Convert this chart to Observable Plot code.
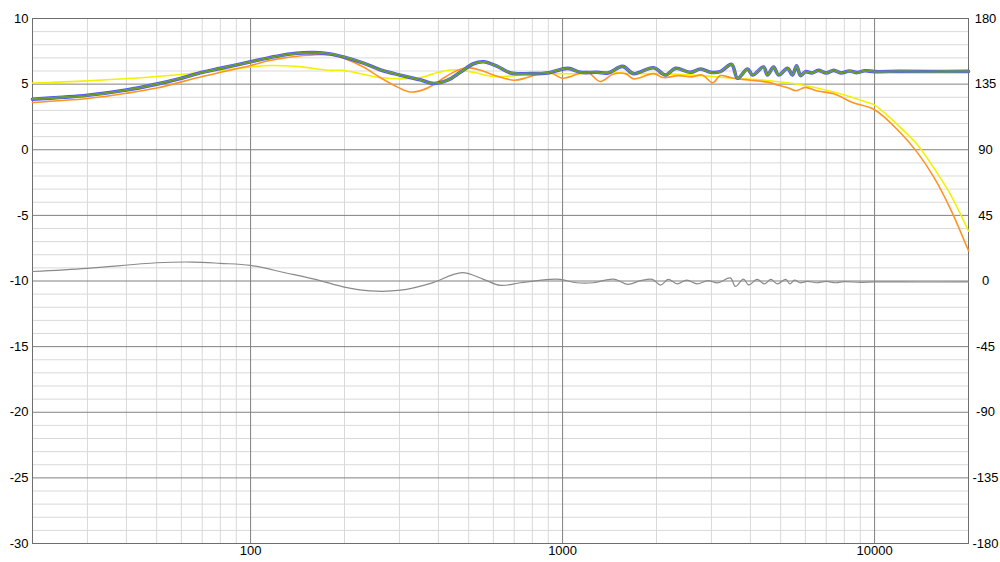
<!DOCTYPE html>
<html><head><meta charset="utf-8">
<script src="https://cdn.jsdelivr.net/npm/d3@7"></script>
<script src="https://cdn.jsdelivr.net/npm/@observablehq/plot@0.6"></script>
<style>html,body{margin:0;padding:0;background:#fff;}</style>
</head><body><div id="chart"></div>
<script>
// Grid and tick values
const majorFreqs = [100, 1000, 10000];
const minorFreqs = [20,30,40,50,60,70,80,90,200,300,400,500,600,700,800,900,2000,3000,4000,5000,6000,7000,8000,9000];
const levelTicks = [-30,-25,-20,-15,-10,-5,0,5,10];
const minorLevels = [-29,-28,-27,-26,-24,-23,-22,-21,-19,-18,-17,-16,-14,-13,-12,-11,-9,-8,-7,-6,-4,-3,-2,-1,1,2,3,4,6,7,8,9];
const phaseTicks = [180,135,90,45,0,-45,-90,-135,-180];

// Main response (blue / green / olive traces, nearly identical)
const mainFreq = [20,25,30,40,50,60,70,80,100,120,140,160,180,200,230,260,300,350,386,428,470,518,558,618,682,790,895,1040,1140,1290,1400,1557,1689,1957,2138,2301,2572,2769,2981,3200,3481,3638,3917,4063,4406,4538,4745,4923,5260,5457,5622,5794,6000,6300,6600,7000,7400,7800,8300,8800,9300,10000,12000,15000,20000];
const mainLevel = [3.85,4.0,4.15,4.55,5.0,5.45,5.9,6.2,6.7,7.1,7.35,7.4,7.3,7.05,6.6,6.1,5.7,5.33,5.05,5.3,5.9,6.55,6.7,6.35,5.85,5.8,5.85,6.2,5.9,5.9,5.85,6.35,5.8,6.25,5.7,6.2,5.9,6.15,5.9,5.95,6.5,5.45,6.15,5.7,6.3,5.7,6.3,5.7,6.2,5.7,6.4,5.65,5.95,5.85,6.05,5.85,6.05,5.85,6.0,5.88,6.02,5.95,5.97,5.96,5.97];

// Orange trace
const orangeFreq = [20,30,40,50,70,100,115,148,180,198,230,260,296,326,360,397,438,490,546,618,700,770,850,912,1000,1140,1200,1320,1450,1590,1689,1957,2100,2350,2600,2800,3030,3200,3450,3638,4000,4538,4950,5300,5600,6000,6500,7400,8500,10000,12100,13700,15500,17500,20000];
const orangeLevel = [3.6,3.9,4.3,4.7,5.58,6.42,6.8,7.18,7.25,7.0,6.3,5.5,4.77,4.4,4.6,5.15,5.8,6.25,6.05,5.6,5.3,5.5,5.83,5.9,5.45,5.85,5.95,5.2,5.75,5.8,5.4,5.8,5.5,5.65,5.55,5.7,5.1,5.65,5.5,5.4,5.3,5.15,4.9,4.7,4.5,4.75,4.5,4.26,3.6,3.05,1.3,-0.2,-2.1,-4.5,-7.7];

// Yellow trace
const yellowFreq = [20,30,50,70,100,115,140,180,198,260,303,350,400,445,518,600,700,800,950,1140,1450,1616,2000,2769,3500,4538,5794,7400,9500,10000,11500,12100,13700,15500,17500,20000];
const yellowLevel = [5.08,5.25,5.58,5.9,6.3,6.42,6.35,6.05,6.05,5.5,5.4,5.5,5.9,6.1,5.9,5.58,5.65,5.83,5.8,5.8,5.9,5.8,5.8,5.65,5.45,5.28,4.95,4.4,3.6,3.4,2.2,1.7,0.4,-1.4,-3.4,-6.2];

// Gray phase trace (degrees, right axis)
const phaseFreq = [20,30,50,65,80,100,130,167,198,242,303,378,477,558,632,733,911,983,1110,1255,1457,1616,1780,1940,2060,2180,2330,2500,2700,2920,3140,3450,3580,3800,3950,4200,4440,4650,4880,5190,5350,5540,5760,6100,6500,7000,7500,8000,9000,10000,14000,20000];
const phaseDeg = [6.5,8.7,12.5,13,12.1,10.7,5.5,0.3,-4,-6.8,-6.3,-1.6,5.8,1.1,-3,-1.2,1.1,1.1,-1.2,-1.2,1.3,-2.3,0.2,1.1,-2.8,1.1,-2,0.6,-2,0.3,-1.3,2.1,-3.7,1.3,-2.7,1.1,-2,1.1,-2,1.1,-2,0.6,-1.2,-0.2,-1.2,-0.3,-1.2,-0.4,-1,-0.6,-0.7,-0.6];

const rows = (f, v) => f.map((x, i) => ({f: x, v: v[i]}));
const mainRows = rows(mainFreq, mainLevel);
const orangeRows = rows(orangeFreq, orangeLevel);
const yellowRows = rows(yellowFreq, yellowLevel);
const phaseRows = rows(phaseFreq, phaseDeg);
const phaseToLevel = p => p / 9 - 10;

const chart = Plot.plot({
  width: 1000,
  height: 562,
  marginLeft: 32,
  marginRight: 32,
  marginTop: 18,
  marginBottom: 19,
  style: {fontFamily: "'Liberation Sans', Arial, sans-serif", fontSize: "13px", color: "#000", background: "#fff"},
  x: {type: "log", domain: [20, 20000], label: null},
  y: {domain: [-30, 10], label: null},
  marks: [
    Plot.ruleX(minorFreqs, {stroke: "#d9d9d9", strokeWidth: 1}),
    Plot.ruleY(minorLevels, {stroke: "#d9d9d9", strokeWidth: 1}),
    Plot.ruleX(majorFreqs, {stroke: "#808080", strokeWidth: 1}),
    Plot.ruleY(levelTicks, {stroke: "#808080", strokeWidth: 1}),
    Plot.frame({stroke: "#6e6e6e"}),
    Plot.axisX(majorFreqs, {label: null, tickSize: 0, tickPadding: 2, tickFormat: d => String(d), fontSize: 13}),
    Plot.axisY(levelTicks, {label: null, anchor: "left", tickSize: 0, tickPadding: 4, tickFormat: d => String(d), fontSize: 13}),
    Plot.text(phaseTicks, {y: phaseToLevel, frameAnchor: "right", dx: 17, textAnchor: "middle", text: d => String(d), fontSize: 13}),
    Plot.line(phaseRows, {x: "f", y: d => phaseToLevel(d.v), stroke: "#8a8a8a", strokeWidth: 1.2, curve: "catmull-rom"}),
    Plot.line(yellowRows, {x: "f", y: "v", stroke: "#f2f200", strokeWidth: 1.6, curve: "catmull-rom"}),
    Plot.line(orangeRows, {x: "f", y: "v", stroke: "#ff9424", strokeWidth: 1.6, curve: "catmull-rom"}),
    Plot.line(mainRows, {x: "f", y: "v", stroke: "#5555ff", strokeWidth: 3.6, curve: "catmull-rom"}),
    Plot.line(mainRows, {x: "f", y: "v", stroke: "#70c800", strokeWidth: 1.8, curve: "catmull-rom"}),
    Plot.line(mainRows, {x: "f", y: "v", stroke: "#5f6f48", strokeWidth: 0.7, curve: "catmull-rom"})
  ]
});
document.getElementById("chart").appendChild(chart);
</script>
</body></html>
